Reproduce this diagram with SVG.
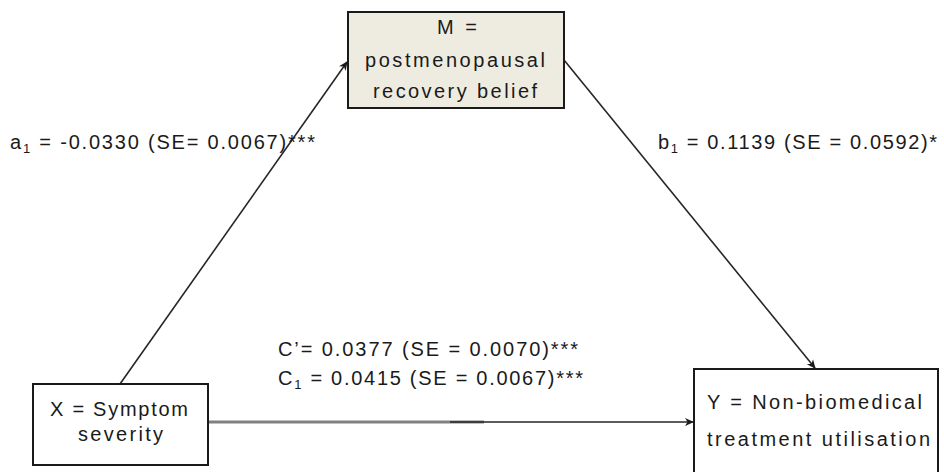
<svg xmlns="http://www.w3.org/2000/svg" width="944" height="472" viewBox="0 0 944 472">
  <style>
    .box { fill: #ffffff; stroke: #1a1a1a; stroke-width: 2; }
    .boxM { fill: #eeece1; stroke: #1a1a1a; stroke-width: 2; }
    .t { font-family: "Liberation Sans", Arial, sans-serif; font-size: 20px; fill: #1a1a1a; }
    .sub { font-size: 13px; }
    .edge { stroke: #262626; stroke-width: 1.6; fill: none; }
  </style>
  <defs>
    <marker id="arrow" viewBox="0 0 10 10" refX="9" refY="5" markerWidth="9" markerHeight="9" markerUnits="userSpaceOnUse" orient="auto">
      <path d="M0,0.5 L10,5 L0,9.5 L3,5 Z" fill="#1a1a1a"/>
    </marker>
  </defs>

  <rect width="944" height="472" fill="#ffffff"/>

  <!-- connectors -->
  <g id="connectors">
    <line class="edge" x1="120" y1="384" x2="347" y2="62" marker-end="url(#arrow)"/>
    <line class="edge" x1="564" y1="60" x2="815" y2="368" marker-end="url(#arrow)"/>
    <line x1="208" y1="422" x2="484" y2="422" stroke="#808080" stroke-width="3"/>
    <line class="edge" x1="450" y1="422" x2="693" y2="422" marker-end="url(#arrow)"/>
  </g>

  <!-- path coefficients -->
  <g id="labels">
    <text class="t" x="10" y="149" textLength="305">a<tspan class="sub" dy="4">1</tspan><tspan dy="-4"> = -0.0330 (SE= 0.0067)***</tspan></text>
    <text class="t" x="658" y="149" textLength="279">b<tspan class="sub" dy="4">1</tspan><tspan dy="-4"> = 0.1139 (SE = 0.0592)*</tspan></text>
    <text class="t" x="278" y="356" textLength="300">C’= 0.0377 (SE = 0.0070)***</text>
    <text class="t" x="278" y="385" textLength="305">C<tspan class="sub" dy="4">1</tspan><tspan dy="-4"> = 0.0415 (SE = 0.0067)***</tspan></text>
  </g>

  <!-- mediator -->
  <g id="node-m">
    <rect class="boxM" x="348" y="12" width="216" height="96"/>
    <text class="t" x="437" y="34" textLength="40">M =</text>
    <text class="t" x="365" y="67" textLength="180">postmenopausal</text>
    <text class="t" x="373" y="98" textLength="164">recovery belief</text>
  </g>

  <!-- predictor -->
  <g id="node-x">
    <rect class="box" x="33" y="384" width="175" height="81"/>
    <text class="t" x="50" y="416" textLength="138">X = Symptom</text>
    <text class="t" x="78" y="441" textLength="85">severity</text>
  </g>

  <!-- outcome -->
  <g id="node-y">
    <rect class="box" x="694" y="369" width="244" height="104"/>
    <text class="t" x="707" y="409" textLength="215">Y = Non-biomedical</text>
    <text class="t" x="707" y="446" textLength="223">treatment utilisation</text>
  </g>
</svg>
